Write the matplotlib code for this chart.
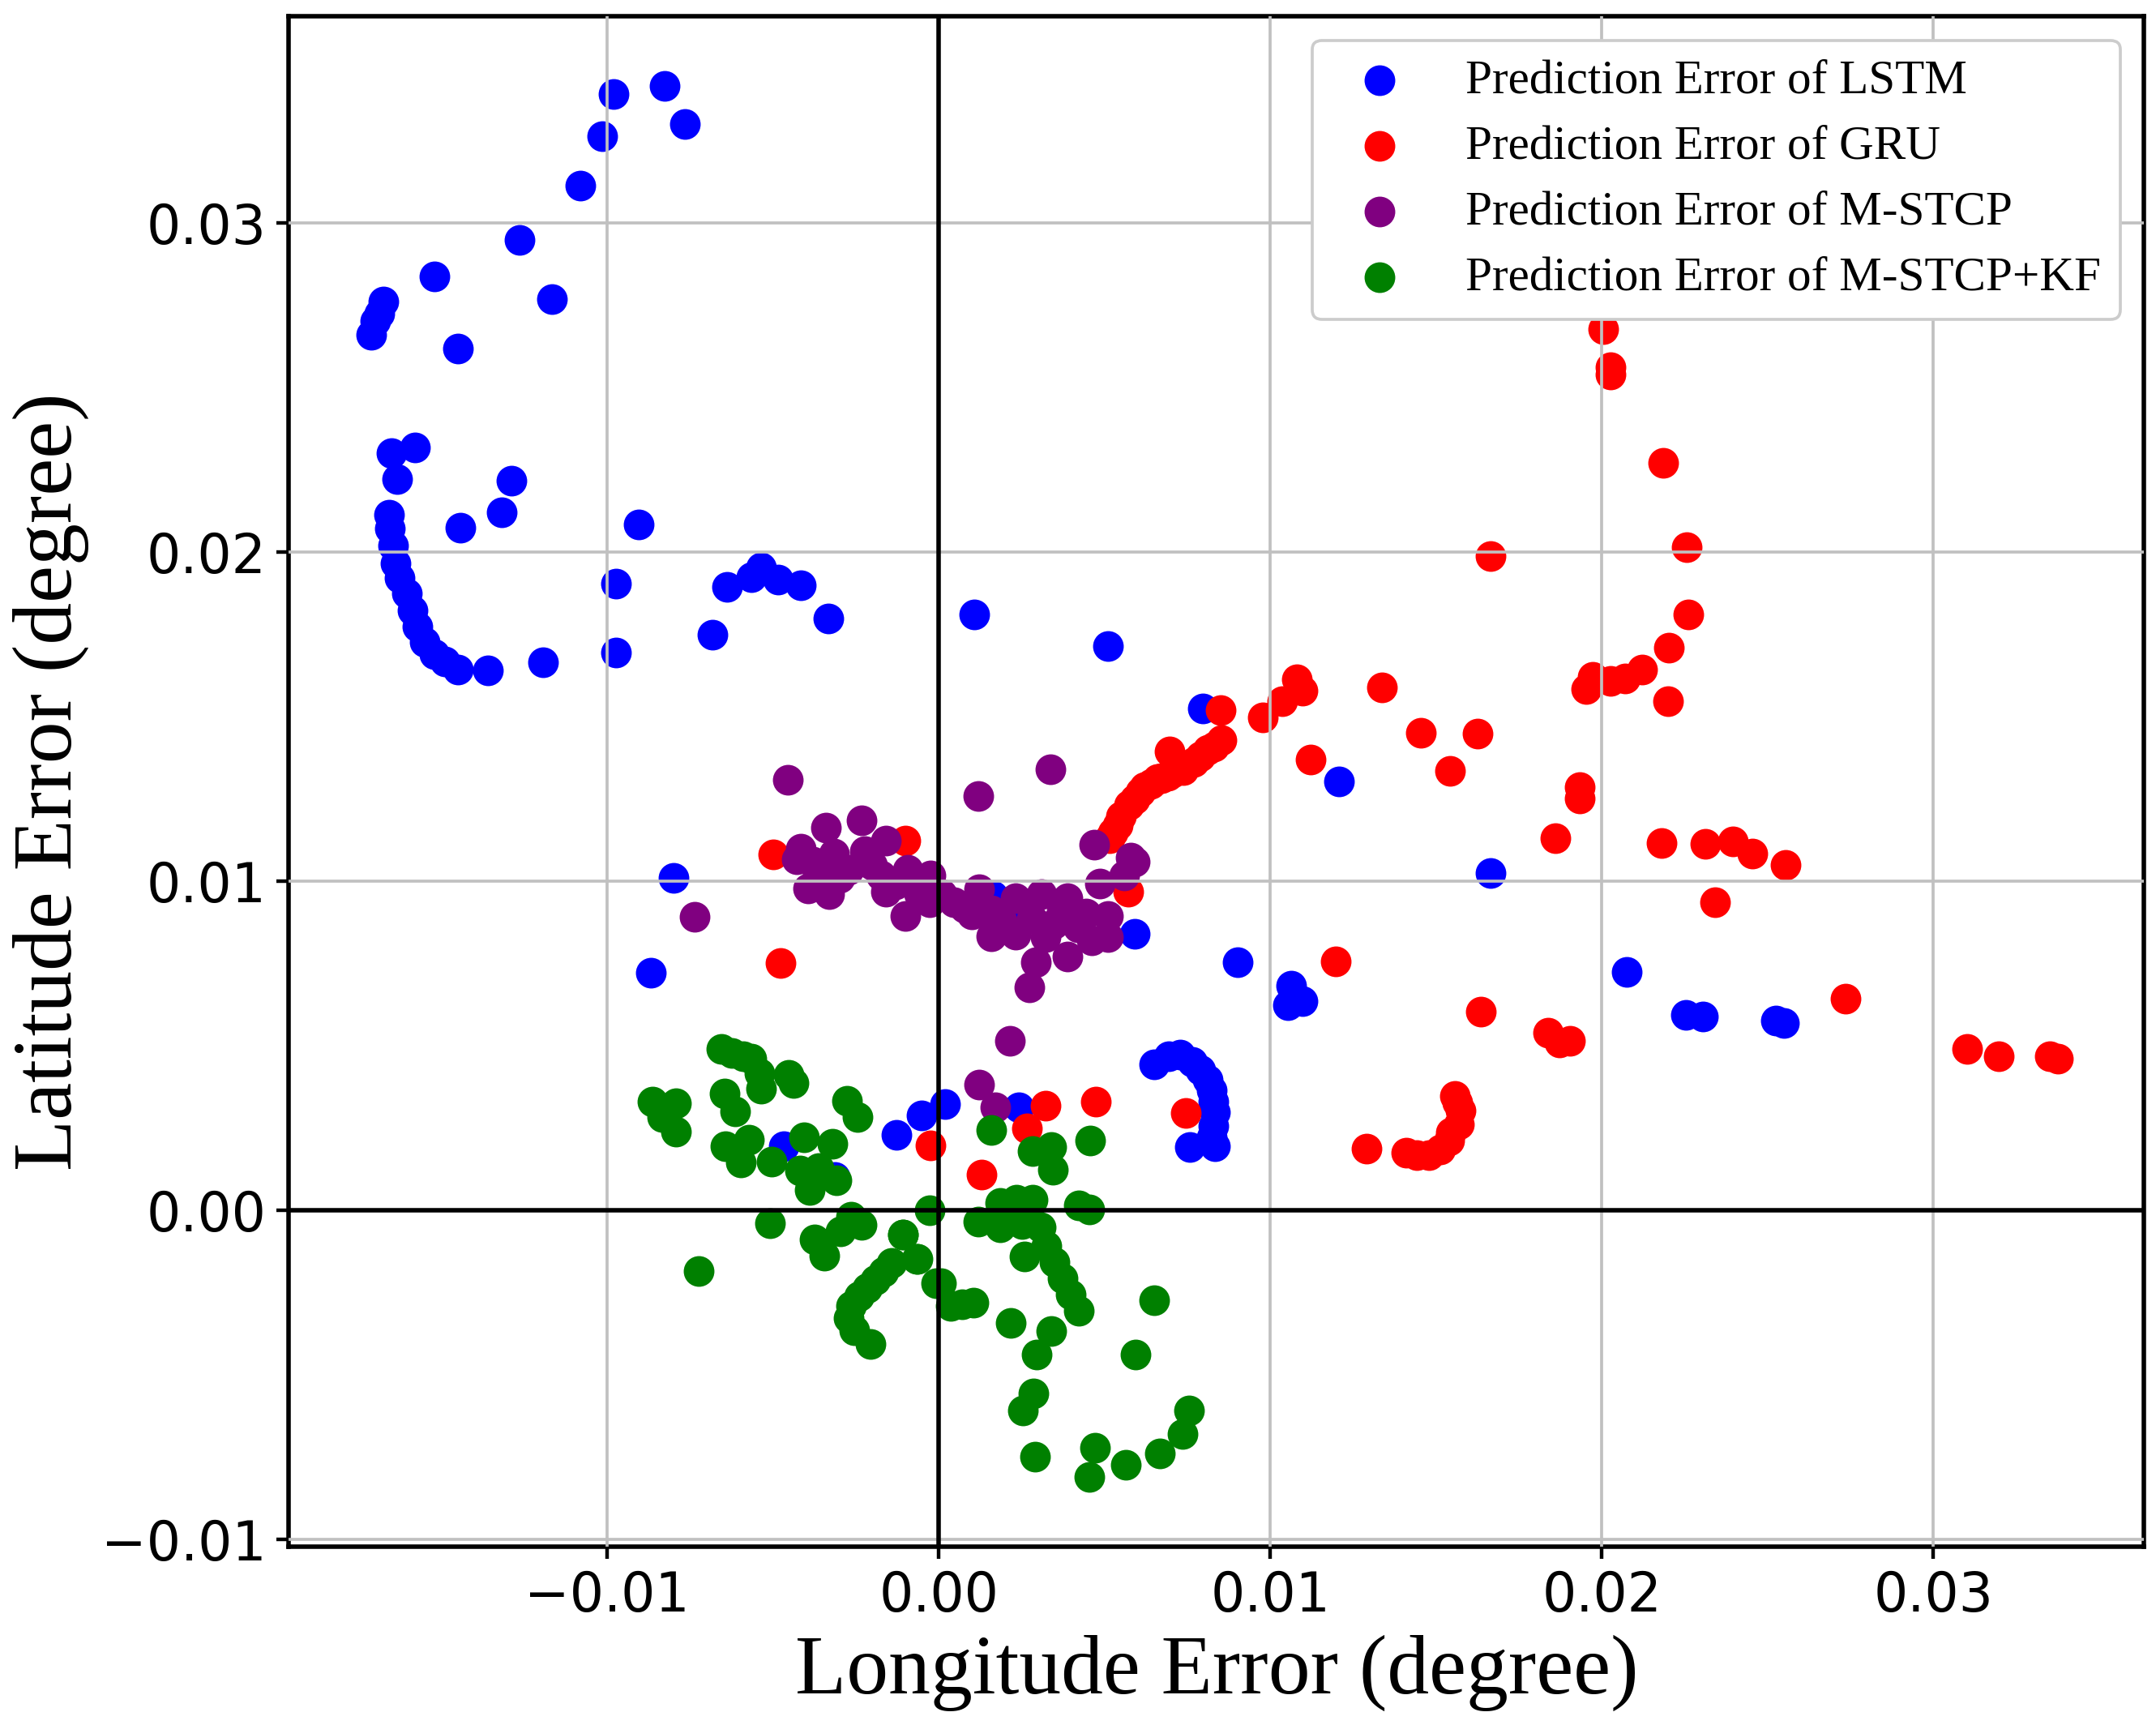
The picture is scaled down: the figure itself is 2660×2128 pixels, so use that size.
import matplotlib
matplotlib.use("Agg")
import matplotlib.pyplot as plt

lstm_x = [-0.00827, -0.00981, -0.00765, -0.01015, -0.01081, -0.01264, -0.01522, -0.01168, -0.01676, -0.01688,
          -0.01701, -0.01713, -0.01451, -0.01651, -0.01580, -0.01634, -0.01289, -0.01318, -0.01443, -0.00906,
          -0.01659, -0.01655, -0.01647, -0.01638, -0.01626, -0.01605, -0.01588, -0.01572, -0.01551, -0.01522,
          -0.01489, -0.01451, -0.01360, -0.01193, -0.00973, -0.00973, -0.00682, -0.00640, -0.00565, -0.00536,
          -0.00486, -0.00416, -0.00333, 0.00108, 0.00511, 0.00797, 0.01208, 0.01663, -0.00800, -0.00868,
          0.00590, 0.00902, 0.01064, 0.01052, 0.01098, 0.02075, 0.02254, 0.02304, 0.02524, 0.02549,
          0.00649, 0.00694, 0.00728, 0.00765, 0.00790, 0.00811, 0.00823, 0.00827, 0.00832, 0.00827,
          0.00823, 0.00756, 0.00833, 0.00019, -0.00052, -0.00129, 0.00241, -0.00467, -0.00313, 0.00223,
          0.00162]
lstm_y = [0.03418, 0.03393, 0.03301, 0.03264, 0.03113, 0.02950, 0.02837, 0.02770, 0.02762, 0.02724,
          0.02703, 0.02661, 0.02619, 0.02301, 0.02318, 0.02222, 0.02218, 0.02121, 0.02075, 0.02084,
          0.02113, 0.02071, 0.02021, 0.01967, 0.01921, 0.01874, 0.01824, 0.01774, 0.01728, 0.01690,
          0.01669, 0.01644, 0.01640, 0.01665, 0.01904, 0.01695, 0.01749, 0.01895, 0.01925, 0.01954,
          0.01916, 0.01900, 0.01799, 0.01812, 0.01715, 0.01524, 0.01303, 0.01025, 0.01011, 0.00721,
          0.00840, 0.00753, 0.00682, 0.00623, 0.00636, 0.00724, 0.00594, 0.00590, 0.00577, 0.00569,
          0.00444, 0.00469, 0.00473, 0.00452, 0.00427, 0.00397, 0.00364, 0.00331, 0.00297, 0.00255,
          0.00222, 0.00191, 0.00195, 0.00322, 0.00288, 0.00228, 0.00314, 0.00194, 0.00100, 0.00896,
          0.00957]

gru_x = [0.02003, 0.02027, 0.02027, 0.02186, 0.02257, 0.02261, 0.02201, 0.02121, 0.02070, 0.02025,
         0.01972, 0.01952, 0.02200, 0.01663, 0.01337, 0.00976, 0.01035, 0.01080, 0.01096, 0.01121,
         0.00850, 0.01455, 0.01626, 0.01543, 0.00515, 0.00526, 0.00540, 0.00550, 0.00575, 0.00590,
         0.00607, 0.00620, 0.00640, 0.00660, 0.00672, 0.00690, 0.00697, 0.00705, 0.00738, 0.00770,
         0.00790, 0.00811, 0.00830, 0.00852, 0.01933, 0.01933, 0.01859, 0.02179, 0.02312, 0.02395,
         0.02453, 0.02553, 0.02341, 0.01198, 0.01634, 0.02736, 0.01838, 0.01871, 0.01904, 0.03102,
         0.03198, 0.03351, 0.03376, 0.01290, 0.01410, 0.01442, 0.01479, 0.01512, 0.01540, 0.01544,
         0.01569, 0.01573, 0.01565, 0.01557, -0.00478, -0.00500, -0.00100, 0.00572, 0.00321, 0.00473,
         0.00265, -0.00024, 0.00128, 0.00746]
gru_y = [0.02679, 0.02561, 0.02541, 0.02272, 0.02016, 0.01811, 0.01709, 0.01643, 0.01617, 0.01609,
         0.01621, 0.01584, 0.01546, 0.01987, 0.01588, 0.01498, 0.01547, 0.01613, 0.01580, 0.01371,
         0.01521, 0.01452, 0.01448, 0.01335, 0.01130, 0.01149, 0.01170, 0.01198, 0.01231, 0.01250,
         0.01272, 0.01285, 0.01297, 0.01310, 0.01313, 0.01320, 0.01395, 0.01330, 0.01338, 0.01362,
         0.01380, 0.01399, 0.01410, 0.01428, 0.01285, 0.01251, 0.01130, 0.01117, 0.01113, 0.01121,
         0.01084, 0.01050, 0.00937, 0.00757, 0.00603, 0.00644, 0.00540, 0.00510, 0.00515, 0.00490,
         0.00469, 0.00469, 0.00460, 0.00188, 0.00176, 0.00168, 0.00168, 0.00184, 0.00213, 0.00237,
         0.00262, 0.00303, 0.00328, 0.00348, 0.00751, 0.01081, 0.01123, 0.00968, 0.00319, 0.00331,
         0.00249, 0.00196, 0.00109, 0.00296]

mstcp_x = [-0.00456, 0.00118, 0.00337, -0.00340, -0.00234, -0.00159, -0.00416, -0.00428, -0.00315, -0.00224,
           -0.00395, -0.00330, -0.00371, -0.00273, -0.00175, -0.00094, -0.00159, -0.00102, -0.00024, -0.00028,
           -0.00061, 0.00045, 0.00078, 0.00122, 0.00159, 0.00159, 0.00232, 0.00232, 0.00310, 0.00387,
           0.00281, 0.00347, 0.00444, 0.00510, 0.00510, 0.00461, 0.00387, 0.00293, 0.00273, 0.00322,
           0.00469, 0.00579, 0.00558, 0.00485, 0.00591, -0.00737, 0.00215, 0.00122, 0.00170, -0.00380,
           -0.00300, -0.00200, -0.00130, -0.00060, 0.00010, 0.00100, 0.00190, 0.00370, 0.00420]
mstcp_y = [0.01309, 0.01258, 0.01339, 0.01164, 0.01184, 0.01124, 0.01098, 0.01067, 0.01083, 0.01091,
           0.00977, 0.00960, 0.01042, 0.01034, 0.01017, 0.01034, 0.00968, 0.00894, 0.01017, 0.00935,
           0.00985, 0.00935, 0.00919, 0.00976, 0.00911, 0.00833, 0.00948, 0.00837, 0.00960, 0.00948,
           0.00886, 0.00870, 0.00902, 0.00894, 0.00829, 0.00821, 0.00771, 0.00755, 0.00677, 0.00829,
           0.01112, 0.01071, 0.01017, 0.00993, 0.01059, 0.00892, 0.00515, 0.00383, 0.00312, 0.01060,
           0.01010, 0.01050, 0.00990, 0.00960, 0.00960, 0.00900, 0.00880, 0.00910, 0.00860]

kf_x = [-0.00655, -0.00623, -0.00590, -0.00566, -0.00541, -0.00537, -0.00452, -0.00439, -0.00863, -0.00794,
        -0.00834, -0.00794, -0.00647, -0.00614, -0.00276, -0.00244, -0.00643, -0.00574, -0.00598, -0.00504,
        -0.00407, -0.00321, -0.00419, -0.00362, -0.00390, -0.00309, -0.00509, -0.00374, -0.00345, -0.00297,
        -0.00264, -0.00232, -0.00109, -0.00064, -0.00028, -0.00724, -0.00007, 0.00037, -0.00142, -0.00166,
        -0.00191, -0.00215, -0.00240, -0.00264, -0.00272, -0.00256, -0.00207, 0.00157, 0.00283, 0.00340,
        0.00344, 0.00457, -0.00108, -0.00067, 0.00006, 0.00071, 0.00104, 0.00119, 0.00185, 0.00234,
        0.00283, 0.00185, 0.00251, 0.00308, 0.00259, 0.00324, 0.00348, 0.00373, 0.00397, 0.00422,
        0.00422, 0.00454, 0.00218, 0.00340, 0.00294, 0.00650, 0.00593, 0.00285, 0.00253, 0.00291,
        0.00471, 0.00454, 0.00565, 0.00666, 0.00735, 0.00754, 0.00210, 0.00270]
kf_y = [0.00490, 0.00477, 0.00469, 0.00461, 0.00416, 0.00370, 0.00411, 0.00387, 0.00329, 0.00325,
        0.00284, 0.00239, 0.00354, 0.00301, 0.00333, 0.00284, 0.00194, 0.00214, 0.00145, 0.00149,
        0.00222, 0.00202, 0.00120, 0.00128, 0.00062, 0.00091, -0.00039, -0.00089, -0.00139, -0.00065,
        -0.00020, -0.00044, -0.00073, -0.00147, 0.00000, -0.00186, -0.00221, -0.00291, -0.00159, -0.00188,
        -0.00213, -0.00237, -0.00262, -0.00291, -0.00328, -0.00365, -0.00406, 0.00245, 0.00179, 0.00191,
        0.00122, 0.00212, -0.00075, -0.00149, -0.00223, -0.00285, -0.00281, -0.00034, 0.00023, 0.00031,
        0.00031, -0.00051, -0.00043, -0.00051, -0.00141, -0.00108, -0.00158, -0.00207, -0.00256, -0.00306,
        0.00015, 0.00002, -0.00342, -0.00367, -0.00439, -0.00274, -0.00439, -0.00556, -0.00609, -0.00749,
        -0.00723, -0.00811, -0.00774, -0.00739, -0.00681, -0.00608, 0.00000, -0.00010]

labels = ["Prediction Error of LSTM", "Prediction Error of GRU",
          "Prediction Error of M-STCP", "Prediction Error of M-STCP+KF"]
colors = ["blue", "red", "purple", "green"]

fig = plt.figure(figsize=(10, 8), dpi=266)
ax = fig.add_axes([0.134, 0.1034, 0.8604, 0.8872])

series = [(lstm_x, lstm_y), (gru_x, gru_y), (mstcp_x, mstcp_y), (kf_x, kf_y)]
for (xs, ys), lab, col in zip(series, labels, colors):
    ax.scatter(xs, ys, s=105, color=col, label=lab, linewidths=0, zorder=1)

ax.set_axisbelow(False)
ax.grid(True, color="#c0c0c0", linewidth=1.0, zorder=2)
ax.axhline(0, color="black", linewidth=1.5, zorder=3)
ax.axvline(0, color="black", linewidth=1.5, zorder=3)

ax.set_xlim(-0.019604, 0.03635)
ax.set_ylim(-0.010224, 0.03629)
ax.set_xticks([-0.01, 0.0, 0.01, 0.02, 0.03])
ax.set_yticks([-0.01, 0.0, 0.01, 0.02, 0.03])
ax.tick_params(labelsize=18, length=4, width=1.2)
for lab in ax.get_xticklabels() + ax.get_yticklabels():
    lab.set_family("DejaVu Sans")
for sp in ax.spines.values():
    sp.set_linewidth(1.5)

ax.set_xlabel("Longitude Error (degree)", fontsize=28, family="Liberation Serif")
ax.set_ylabel("Latitude Error (degree)", fontsize=28, family="Liberation Serif")

leg = ax.legend(loc="upper right", prop={"family": "Liberation Serif", "size": 16},
                framealpha=1.0, labelspacing=0.45)
leg.set_zorder(5)

fig.savefig("out.png", dpi=266)
